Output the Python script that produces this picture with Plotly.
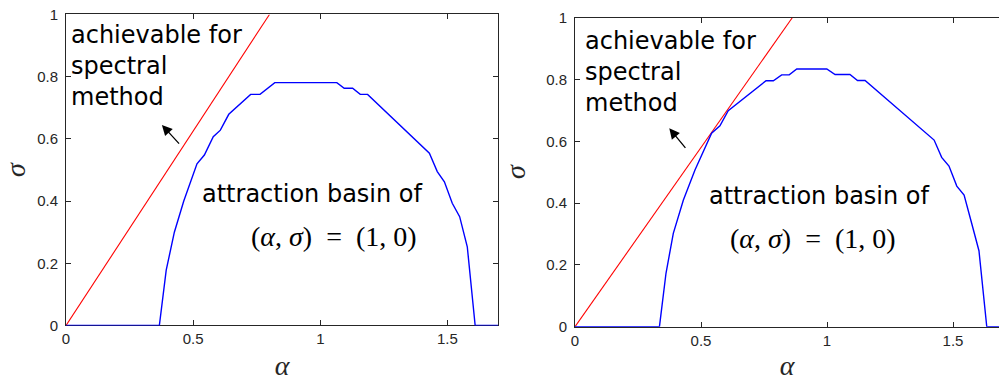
import plotly.graph_objects as go

# Axis ticks
X_TICKS = [0, 0.5, 1, 1.5]
X_TICK_LABELS = ["0", "0.5", "1", "1.5"]
Y_TICKS = [0, 0.2, 0.4, 0.6, 0.8, 1]
Y_TICK_LABELS = ["0", "0.2", "0.4", "0.6", "0.8", "1"]

# Left panel: boundary of the attraction basin and the spectral-method line
left_alpha = [0, 0.367, 0.394, 0.426, 0.463, 0.515, 0.544, 0.579, 0.607, 0.640,
              0.726, 0.763, 0.821, 1.065, 1.094, 1.127, 1.157, 1.186, 1.429,
              1.460, 1.488, 1.519, 1.548, 1.578, 1.609, 1.7]
left_sigma = [0, 0, 0.178, 0.300, 0.400, 0.520, 0.548, 0.607, 0.628, 0.679,
              0.743, 0.743, 0.781, 0.781, 0.763, 0.763, 0.743, 0.743, 0.554,
              0.495, 0.462, 0.393, 0.350, 0.253, 0, 0]
left_spec_alpha = [0, 0.8]
left_spec_sigma = [0, 1]

# Right panel
right_alpha = [0, 0.335, 0.361, 0.390, 0.430, 0.476, 0.542, 0.575, 0.608, 0.758,
               0.787, 0.820, 0.850, 0.880, 0.999, 1.032, 1.091, 1.121, 1.151,
               1.425, 1.455, 1.484, 1.515, 1.544, 1.574, 1.603, 1.634, 1.7]
right_sigma = [0, 0, 0.173, 0.302, 0.410, 0.507, 0.626, 0.650, 0.699, 0.796,
               0.796, 0.815, 0.815, 0.834, 0.834, 0.816, 0.816, 0.797, 0.797,
               0.604, 0.548, 0.520, 0.455, 0.426, 0.335, 0.246, 0, 0]
right_spec_alpha = [0, 0.862]
right_spec_sigma = [0, 1]

AX_COLOR = "#262626"
SANS = "DejaVu Sans, Arial, Helvetica, sans-serif"
TICK_SANS = "Liberation Sans, Arial, Helvetica, sans-serif"
SERIF = "Liberation Serif, Times New Roman, serif"

fig = go.Figure()

fig.add_trace(go.Scatter(x=left_spec_alpha, y=left_spec_sigma, mode="lines",
                         line=dict(color="#ff0000", width=1.1),
                         xaxis="x", yaxis="y", showlegend=False))
fig.add_trace(go.Scatter(x=left_alpha, y=left_sigma, mode="lines",
                         line=dict(color="#0000ff", width=1.4),
                         xaxis="x", yaxis="y", showlegend=False))
fig.add_trace(go.Scatter(x=right_spec_alpha, y=right_spec_sigma, mode="lines",
                         line=dict(color="#ff0000", width=1.1),
                         xaxis="x2", yaxis="y2", showlegend=False))
fig.add_trace(go.Scatter(x=right_alpha, y=right_sigma, mode="lines",
                         line=dict(color="#0000ff", width=1.4),
                         xaxis="x2", yaxis="y2", showlegend=False))


def axis_style(**kw):
    d = dict(ticks="inside", ticklen=5, tickwidth=1, tickcolor=AX_COLOR,
             showline=True, linecolor=AX_COLOR, linewidth=1,
             showgrid=False, zeroline=False, layer="below traces",
             automargin=False,
             tickfont=dict(family=TICK_SANS, size=15, color=AX_COLOR))
    d.update(kw)
    return d


axis_title_font = dict(family=SERIF, size=28, color=AX_COLOR)

fig.update_layout(
    width=999, height=381, autosize=False,
    margin=dict(l=0, r=0, t=0, b=0),
    paper_bgcolor="white", plot_bgcolor="white",
    xaxis=axis_style(domain=[0.0661, 0.4988], range=[0, 1.7],
                     tickvals=X_TICKS, ticktext=X_TICK_LABELS, mirror="ticks",
                     anchor="y",
                     title=dict(text="<i>α</i>", font=axis_title_font, standoff=15)),
    yaxis=axis_style(domain=[0.1457, 0.962], range=[0, 1],
                     tickvals=Y_TICKS, ticktext=Y_TICK_LABELS, mirror="ticks",
                     anchor="x", ticklabelstandoff=4,
                     title=dict(text="<i>σ</i>", font=axis_title_font, standoff=12)),
    xaxis2=axis_style(domain=[0.5756, 1.0], range=[0, 1.6825],
                      tickvals=X_TICKS, ticktext=X_TICK_LABELS, mirror="ticks",
                      anchor="y2",
                      title=dict(text="<i>α</i>", font=axis_title_font, standoff=15)),
    yaxis2=axis_style(domain=[0.1425, 0.9535], range=[0, 1],
                      tickvals=Y_TICKS, ticktext=Y_TICK_LABELS, mirror=False,
                      anchor="x2", ticklabelstandoff=4,
                      title=dict(text="<i>σ</i>", font=axis_title_font, standoff=12)),
)

label_font = dict(family=SANS, size=24, color="black")
math_font = dict(family=SERIF, size=28, color="black")
NB = "\u00a0"


def panel_text(xref, yref, x0, y_mid, basin_xy, math_xy, arrow):
    fig.add_annotation(x=x0, y=y_mid, xref=xref, yref=yref,
                       text="achievable for<br>spectral<br>method",
                       showarrow=False, xanchor="left", yanchor="middle",
                       align="left", font=label_font)
    fig.add_annotation(x=basin_xy[0], y=basin_xy[1], xref=xref, yref=yref,
                       text="attraction basin of", showarrow=False,
                       xanchor="left", yanchor="middle", font=label_font)
    fig.add_annotation(x=math_xy[0], y=math_xy[1], xref=xref, yref=yref,
                       text=f"(<i>α</i>,{NB}<i>σ</i>){NB}{NB}={NB}{NB}(1,{NB}0)",
                       showarrow=False,
                       xanchor="left", yanchor="middle", font=math_font)
    (hx, hy), (tx, ty) = arrow
    fig.add_annotation(x=hx, y=hy, ax=tx, ay=ty, xref=xref, yref=yref,
                       axref=xref, ayref=yref, text="", showarrow=True,
                       arrowhead=2, arrowsize=1.6, arrowwidth=1.3,
                       arrowcolor="black")


panel_text("x", "y", 0.012, 0.835,
           (0.525, 0.423), (0.718, 0.286),
           ((0.377, 0.645), (0.45, 0.58)))
panel_text("x2", "y2", 0.032, 0.825,
           (0.524, 0.423), (0.607, 0.287),
           ((0.374, 0.642), (0.443, 0.574)))

fig.write_html("out.html")
